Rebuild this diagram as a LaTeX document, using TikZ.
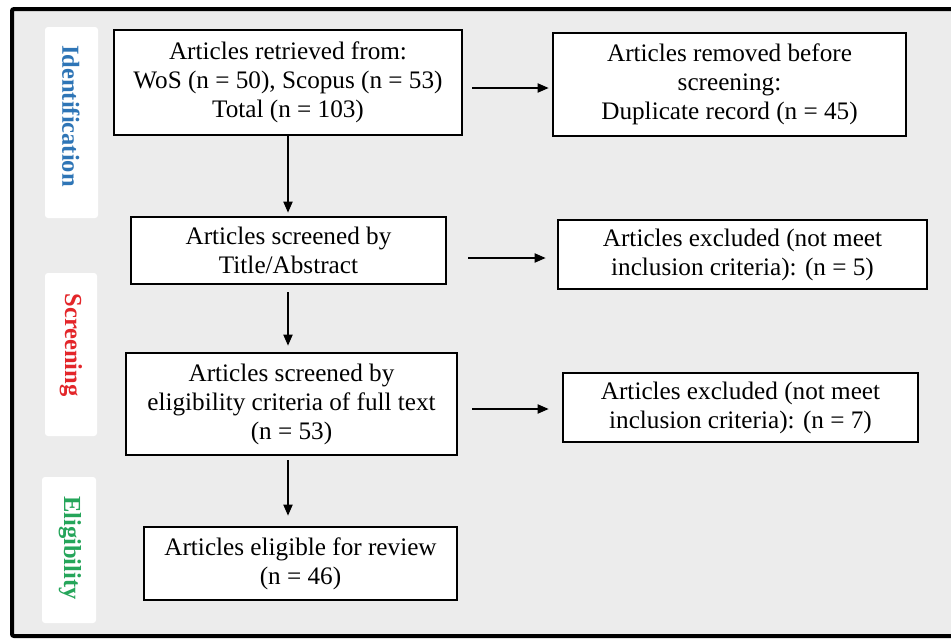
\documentclass[tikz,border=0pt]{standalone}
\usepackage{fontspec}
\setmainfont{Liberation Serif}
\usetikzlibrary{arrows.meta}
\definecolor{bg}{HTML}{ECECEC}
\definecolor{idblue}{HTML}{2E75B6}
\definecolor{scred}{HTML}{E3262A}
\definecolor{elgreen}{HTML}{25A55A}
\begin{document}
\begin{tikzpicture}[x=1pt,y=-1pt,
  box/.style={draw=black, line width=2.6pt, fill=white, inner sep=0pt, align=center,
    font=\fontsize{25.2}{29}\selectfont},
  arr/.style={line width=1.8pt, -{Triangle[length=11pt,width=9pt]}},
  panel/.style={fill=white, draw=none, rounded corners=3pt, inner sep=0pt},
  lab/.style={font=\fontsize{24.5}{29}\selectfont\bfseries, rotate=-90, inner sep=0pt}]
\useasboundingbox (0,0) rectangle (951,640);
\fill[white] (0,0) rectangle (951,640);
\begin{scope}
  \clip (0,0) rectangle (951,640);
  \draw[line width=4pt, fill=bg, rounded corners=2pt] (12,9) rectangle (975,636);
\end{scope}
% side panels
\node[panel, minimum width=53pt, minimum height=191pt] (p1) at (71.5,122.5) {};
\node[panel, minimum width=52pt, minimum height=163pt] (p2) at (71,354.5) {};
\node[panel, minimum width=54pt, minimum height=146pt] (p3) at (69,550) {};
\node[lab, text=idblue] (l1) at (71,116) {Identification};
\node[lab, text=scred] (l2) at (71,345) {Screening};
\node[lab, text=elgreen] (l3) at (70,548) {Eligibility};
% main boxes
\node[box, minimum width=348pt, minimum height=105pt] (b1) at (288,82.5)
  {Articles retrieved from:\\WoS (n = 50), Scopus (n = 53)\\Total (n = 103)};
\node[box, minimum width=315pt, minimum height=67pt] (b2) at (288.5,250.5)
  {Articles screened by\\Title/Abstract};
\node[box, minimum width=331pt, minimum height=102pt] (b3) at (291.5,404)
  {Articles screened by\\eligibility criteria of full text\\(n = 53)};
\node[box, minimum width=313pt, minimum height=73pt] (b4) at (300.5,563.5)
  {Articles eligible for review\\(n = 46)};
\node[box, minimum width=353pt, minimum height=103pt] (b5) at (729.5,84.5)
  {Articles removed before\\screening:\\Duplicate record (n = 45)};
\node[box, minimum width=369pt, minimum height=69pt] (b6) at (742.5,254.5)
  {Articles excluded (not meet\\inclusion criteria): (n = 5)};
\node[box, minimum width=355pt, minimum height=69pt] (b7) at (740.5,407.5)
  {Articles excluded (not meet\\inclusion criteria): (n = 7)};
% vertical arrows
\draw[arr, shorten >=3pt] (b1.south) -- (b2.north -| b1.south);
\draw[arr, shorten <=7pt, shorten >=6pt] (b2.south -| b1.south) -- (b3.north -| b1.south);
\draw[arr, shorten <=4pt, shorten >=10pt] (b3.south -| b1.south) -- (b4.north -| b1.south);
% horizontal arrows
\draw[arr] ([xshift=9pt,yshift=-5.5pt]b1.east) -- ([xshift=-3pt,yshift=-3.5pt]b5.west);
\draw[arr] ([xshift=21pt,yshift=-7.5pt]b2.east) -- ([xshift=-11pt,yshift=-3.5pt]b6.west);
\draw[arr] ([xshift=14pt,yshift=-5pt]b3.east) -- ([xshift=-13pt,yshift=-1.5pt]b7.west);
\end{tikzpicture}
\end{document}
